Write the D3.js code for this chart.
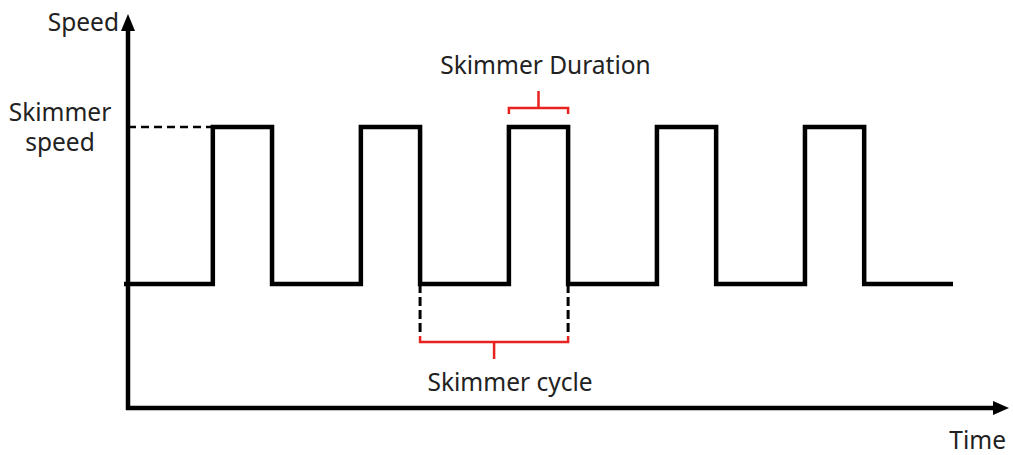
<!DOCTYPE html>
<html>
<head>
<meta charset="utf-8">
<script src="https://cdn.jsdelivr.net/npm/d3@7"></script>
<style>
  body { margin: 0; background: #fff; }
  text { font-family: "Noto Sans", sans-serif; font-size: 24.5px; fill: #222; }
</style>
</head>
<body>
<svg id="chart" width="1013" height="455"></svg>
<script>
// pulse edges, in time units (one pulse lasts 1 unit, cycle is 2.5)
var riseTimes = [1.5, 4, 6.5, 9, 11.5];
var fallTimes = [2.5, 5, 7.5, 10, 12.5];
var startTime = 0, endTime = 14;
var lowSpeed = 0, highSpeed = 1;

// which pulse gets the duration / cycle brackets
var durationPulse = 2;
var cycleFrom = fallTimes[1], cycleTo = fallTimes[2];

var labels = {
  yAxis: 'Speed',
  xAxis: 'Time',
  level: ['Skimmer', 'speed'],
  duration: 'Skimmer Duration',
  cycle: 'Skimmer cycle'
};

var svg = d3.select('#chart');
var x = d3.scaleLinear().domain([startTime, endTime]).range([124, 953]);
var y = d3.scaleLinear().domain([lowSpeed, highSpeed]).range([284, 127]);

var axisX = x(startTime) + 4;
var axisY = y(-0.79);
var red = '#e8231f';

// build the square wave from the edges
var wave = [[startTime, lowSpeed]];
riseTimes.forEach(function(t, i) {
  wave.push([t, lowSpeed], [t, highSpeed], [fallTimes[i], highSpeed], [fallTimes[i], lowSpeed]);
});
wave.push([endTime, lowSpeed]);

var line = d3.line().x(function(d) { return x(d[0]); }).y(function(d) { return y(d[1]); });

// axes
svg.append('line')
  .attr('x1', axisX).attr('x2', axisX)
  .attr('y1', axisY + 2).attr('y2', 28)
  .attr('stroke', '#000').attr('stroke-width', 4.5);
svg.append('path')
  .attr('d', 'M' + axisX + ',14 L' + (axisX - 7) + ',31 L' + (axisX + 7) + ',31 Z')
  .attr('fill', '#000');
svg.append('line')
  .attr('x1', axisX - 2).attr('x2', 995)
  .attr('y1', axisY).attr('y2', axisY)
  .attr('stroke', '#000').attr('stroke-width', 4.5);
svg.append('path')
  .attr('d', 'M1009,' + axisY + ' L993,' + (axisY - 7) + ' L993,' + (axisY + 7) + ' Z')
  .attr('fill', '#000');

// dashed guide for skimmer speed
svg.append('line')
  .attr('x1', axisX).attr('x2', x(riseTimes[0]))
  .attr('y1', y(highSpeed)).attr('y2', y(highSpeed))
  .attr('stroke', '#000').attr('stroke-width', 2.5)
  .attr('stroke-dasharray', '8,5');

// the wave itself
svg.append('path')
  .datum(wave)
  .attr('d', line)
  .attr('fill', 'none')
  .attr('stroke', '#000')
  .attr('stroke-width', 4.5)
  .attr('stroke-linejoin', 'miter');

// duration bracket
var d0 = x(riseTimes[durationPulse]), d1 = x(fallTimes[durationPulse]);
var by = y(highSpeed) - 19;
svg.append('path')
  .attr('d', 'M' + d0 + ',' + (by + 6) + ' L' + d0 + ',' + by + ' L' + d1 + ',' + by + ' L' + d1 + ',' + (by + 6) +
    ' M' + (d0 + d1) / 2 + ',' + by + ' L' + (d0 + d1) / 2 + ',' + (by - 17))
  .attr('fill', 'none').attr('stroke', red).attr('stroke-width', 2.5);

// cycle: dashed drops and bracket
[cycleFrom, cycleTo].forEach(function(t) {
  svg.append('line')
    .attr('x1', x(t)).attr('x2', x(t))
    .attr('y1', y(lowSpeed)).attr('y2', y(lowSpeed) + 51)
    .attr('stroke', '#000').attr('stroke-width', 3)
    .attr('stroke-dasharray', '9,4');
});
var c0 = x(cycleFrom), c1 = x(cycleTo), cy = y(lowSpeed) + 58;
svg.append('path')
  .attr('d', 'M' + c0 + ',' + (cy - 6) + ' L' + c0 + ',' + cy + ' L' + c1 + ',' + cy + ' L' + c1 + ',' + (cy - 6) +
    ' M' + (c0 + c1) / 2 + ',' + cy + ' L' + (c0 + c1) / 2 + ',' + (cy + 17))
  .attr('fill', 'none').attr('stroke', red).attr('stroke-width', 2.5);

// texts
svg.append('text').attr('x', axisX - 9).attr('y', 31).attr('text-anchor', 'end').text(labels.yAxis);
svg.append('text').attr('x', 1006).attr('y', 449).attr('text-anchor', 'end').text(labels.xAxis);
svg.selectAll('.lvl').data(labels.level).enter().append('text')
  .attr('class', 'lvl')
  .attr('x', 60)
  .attr('y', function(d, i) { return y(highSpeed) - 6 + i * 30; })
  .attr('text-anchor', 'middle')
  .text(function(d) { return d; });
svg.append('text').attr('x', (d0 + d1) / 2 + 7).attr('y', 74).attr('text-anchor', 'middle').text(labels.duration);
svg.append('text').attr('x', (c0 + c1) / 2 + 16).attr('y', 391).attr('text-anchor', 'middle').text(labels.cycle);
</script>
</body>
</html>
